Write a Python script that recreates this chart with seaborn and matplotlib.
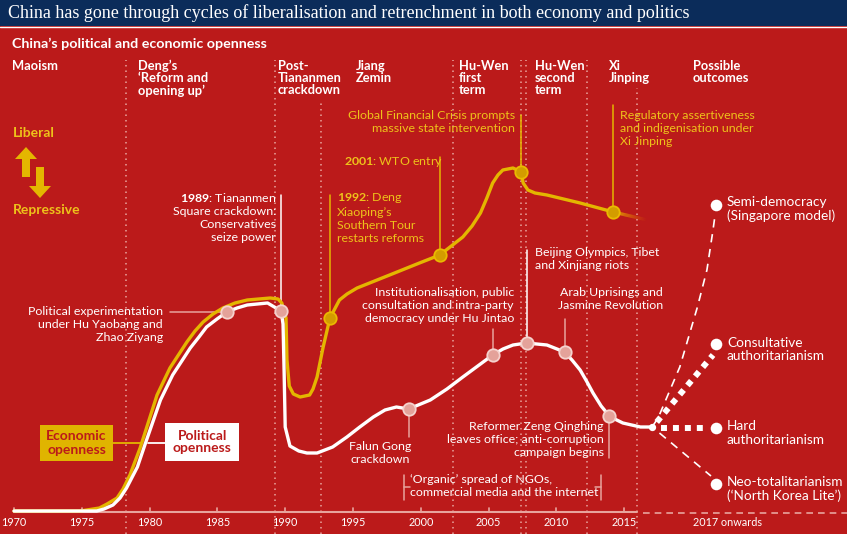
import numpy as np
import pandas as pd
import matplotlib
matplotlib.use("Agg")
import matplotlib.pyplot as plt
import seaborn as sns
from matplotlib.patches import Rectangle, FancyArrow
from matplotlib.collections import LineCollection

# ---------------- data ----------------
econ_year = [1970.0, 1974.9, 1976.3, 1976.86, 1977.6, 1978.04, 1978.55, 1979.3, 1980.55,
             1981.5, 1982.75, 1983.35, 1983.95, 1984.68, 1985.4, 1986.3, 1987.2, 1988.9,
             1989.47, 1989.75, 1990.06, 1990.13, 1990.3, 1990.6, 1991.1, 1991.8, 1992.05,
             1992.35, 1992.8, 1993.3, 1994.0, 1994.56, 1995.3, 1997.7, 1999.9, 2001.4,
             2003.1, 2003.78, 2004.4, 2004.87, 2005.3, 2005.69, 2006.05, 2006.8, 2007.4,
             2007.55, 2007.9, 2008.42, 2009.3, 2011.75, 2014.2]
econ_value = [1, 1, 4, 8, 14, 23, 37, 64, 117,
              144, 170, 181, 190, 198, 204, 209, 212, 214,
              213, 209, 194, 152, 126, 118, 115, 117, 123,
              135, 165, 194, 212, 218, 224, 237, 249, 257,
              275, 286, 299, 314, 329, 337, 342, 344, 340,
              329, 322, 319, 317, 309, 300]
econ_fade_year = [2014.2, 2016.7]
econ_fade_value = [300, 292]

pol_year = [1970.0, 1976.1, 1976.64, 1977.3, 1977.82, 1978.3, 1979.1, 1979.7, 1980.8,
            1981.7, 1983.0, 1983.64, 1984.2, 1984.97, 1985.7, 1986.45, 1987.2, 1988.7,
            1989.7, 1989.84, 1989.92, 1990.0, 1990.35, 1991.0, 1991.6, 1992.35, 1993.5,
            1994.55, 1995.5, 1996.5, 1997.36, 1998.2, 1999.1, 2000.7, 2001.93, 2003.1,
            2004.2, 2005.3, 2006.06, 2006.8, 2007.8, 2009.3, 2010.6, 2011.15, 2011.75,
            2012.26, 2012.7, 2013.3, 2013.9, 2014.3, 2014.9, 2016.2, 2017.05]
pol_value = [1, 1, 3, 7, 14, 24, 45, 69, 112,
             137, 164, 175, 185, 193, 200, 204, 207, 209,
             201, 188, 140, 85, 66, 61, 59, 59, 65,
             75, 85, 95, 102, 105, 103, 112, 123, 135,
             146, 157, 163, 167, 169, 167, 160, 152, 142,
             130, 119, 106, 96, 93, 89, 85, 85]

econ_event_year = [1993.3, 2001.4, 2007.4, 2014.2]
econ_event_value = [194, 257, 340, 300]
pol_event_year = [1985.7, 1989.7, 1999.1, 2005.3, 2007.8, 2010.6, 2013.9]
pol_event_value = [200, 201, 103, 157, 169, 160, 96]

outcome_names = ["Semi-democracy\n(Singapore model)", "Consultative\nauthoritarianism",
                 "Hard\nauthoritarianism", "Neo-totalitarianism\n(‘North Korea Lite’)"]
outcome_year = 2021.8
outcome_value = [307, 168, 84, 28]
semi_year = [2017.05, 2017.5, 2019.1, 2020.4, 2021.1, 2021.55, 2021.7]
semi_value = [85, 94, 145, 205, 242, 282, 297]
consult_year = [2017.4, 2021.55]
consult_value = [90, 157]
hard_year = [2017.7, 2021.2]
hard_value = [84, 84]
neo_year = [2017.6, 2021.4]
neo_value = [79, 36]

tick_years = [1970, 1975, 1980, 1985, 1990, 1995, 2000, 2005, 2010, 2015]
period_bounds = [1978.26, 1989.25, 1992.64, 2002.34, 2007.4, 2007.77, 2012.26, 2015.98]
period_tops = [452, 452, 412, 452, 452, 452, 452, 424]
era_names = ["Maoism", "Deng’s\n‘Reform and\nopening up’", "Post-\nTiananmen\ncrackdown",
             "Jiang\nZemin", "Hu-Wen\nfirst\nterm", "Hu-Wen\nsecond\nterm", "Xi\nJinping",
             "Possible\noutcomes"]

# ---------------- style ----------------
RED = "#bb1a1a"
NAVY = "#0b2c5a"
YEL = "#e4b600"
YTXT = "#eec21a"
PINK = "#e8a49d"
WHITE = "white"

sns.set_style("white")
plt.rcParams['font.family'] = ['Lato', 'DejaVu Sans']
plt.rcParams['mathtext.fontset'] = 'custom'
plt.rcParams['mathtext.rm'] = 'Lato'
plt.rcParams['mathtext.bf'] = 'Lato:bold'

fig = plt.figure(figsize=(8.47, 5.34), dpi=100, facecolor=RED)
ax = fig.add_axes([0, 0, 1, 1])
ax.set_facecolor(RED)
X0, PX = 1970, 13.56

# period separators
for x, top in zip(period_bounds, period_tops):
    ax.plot([x, x], [-22, top], color=PINK, lw=1.1, ls=(0, (1, 2.6)), zorder=1)

# axis
ax.plot([1970, 2015.98], [0, 0], color=PINK, lw=1.5, zorder=2)
ax.plot([2016.4, 2032], [-1, -1], color=PINK, lw=1.2, ls=(0, (4, 3)), zorder=2)
for t in tick_years:
    ax.plot([t, t], [0, 4], color=PINK, lw=1.2, zorder=2)
    ax.text(t, -11, str(t), ha='center', va='center', color=WHITE, fontsize=7.8)
ax.text(2022.65, -11, "2017 onwards", ha='center', va='center', color=WHITE, fontsize=7.8)

# lines
df_e = pd.DataFrame({'year': econ_year, 'openness': econ_value})
df_p = pd.DataFrame({'year': pol_year, 'openness': pol_value})
sns.lineplot(data=df_e, x='year', y='openness', ax=ax, color=YEL, linewidth=2.4,
             sort=False, estimator=None, zorder=4, solid_joinstyle='round')
sns.lineplot(data=df_p, x='year', y='openness', ax=ax, color=WHITE, linewidth=2.4,
             sort=False, estimator=None, zorder=5, solid_joinstyle='round')

# fading end of economic line
fx = np.linspace(econ_fade_year[0], econ_fade_year[1], 40)
fy = np.linspace(econ_fade_value[0], econ_fade_value[1], 40)
pts = np.array([fx, fy]).T.reshape(-1, 1, 2)
segs = np.concatenate([pts[:-1], pts[1:]], axis=1)
alphas = np.linspace(1, 0, len(segs))
cols = [(0.89 + 0.05 * (1 - a), 0.71 - 0.25 * (1 - a), 0.0, a) for a in alphas]
ax.add_collection(LineCollection(segs, colors=cols, linewidths=2.4, zorder=4))

# leader lines
leaders = [
    (PINK, [1981.5, 1985.7], [200, 200]),
    (WHITE, [1989.7, 1989.7], [201, 317]),
    (YEL, [1993.3, 1993.3], [194, 317]),
    (YEL, [2001.4, 2001.4], [257, 355]),
    (YEL, [2007.4, 2007.4], [340, 397]),
    (YEL, [2014.2, 2014.2], [300, 407]),
    (PINK, [2005.3, 2005.3], [157, 183]),
    (WHITE, [2007.8, 2007.8], [169, 262]),
    (PINK, [2010.6, 2010.6], [160, 193]),
    (PINK, [1999.1, 1999.1], [103, 75]),
    (PINK, [2013.9, 2013.9], [96, 54]),
    (PINK, [1998.76, 1998.76], [12, 37]),
    (PINK, [1998.76, 1999.2], [25, 25]),
    (PINK, [2013.29, 2013.29], [12, 37]),
    (PINK, [2012.85, 2013.29], [25, 25]),
]
for c, xs, ys in leaders:
    ax.plot(xs, ys, color=c, lw=1.1, zorder=3)

# event markers
sns.scatterplot(x=econ_event_year, y=econ_event_value, ax=ax, s=80, color="#d39c00",
                edgecolor="#eab900", linewidth=1.3, zorder=6)
sns.scatterplot(x=pol_event_year, y=pol_event_value, ax=ax, s=80, color="#e4a29a",
                edgecolor="#f5d2cd", linewidth=1.3, zorder=6)

# possible outcomes
ax.plot(semi_year, semi_value, color=WHITE, lw=1.2, ls=(0, (5, 4)), zorder=5)
ax.plot(neo_year, neo_value, color=WHITE, lw=1.2, ls=(0, (5, 4)), zorder=5)
ax.plot(consult_year, consult_value, color=WHITE, lw=4.3, ls=(0, (1, 1)), zorder=5,
        dash_capstyle='butt')
ax.plot(hard_year, hard_value, color=WHITE, lw=4.3, ls=(0, (1, 1)), zorder=5,
        dash_capstyle='butt')
ax.scatter([pol_year[-1]], [pol_value[-1]], s=18, color=WHITE, zorder=6)
ax.scatter([outcome_year] * 4, outcome_value, s=70, color=WHITE, zorder=6, linewidths=0)
for name, v, top in zip(outcome_names, outcome_value, [316, 175, 92, 36]):
    ax.text(2022.58, top, name, ha='left', va='top', color=WHITE, fontsize=9.8,
            linespacing=1.15)

# legend boxes
ax.add_patch(Rectangle((1971.92, 51), 5.38, 36, facecolor="#e0b400", edgecolor='none', zorder=6))
ax.text(1974.61, 69, "Economic\nopenness", ha='center', va='center', color=RED,
        fontsize=10, fontweight='bold', zorder=7, linespacing=1.1)
ax.add_patch(Rectangle((1981.14, 51), 5.45, 38, facecolor=WHITE, edgecolor='none', zorder=6))
ax.text(1983.87, 70, "Political\nopenness", ha='center', va='center', color=RED,
        fontsize=10, fontweight='bold', zorder=7, linespacing=1.1)
ax.plot([1977.3, 1979.45], [69, 69], color=YEL, lw=1.3, zorder=3)
ax.plot([1979.85, 1981.14], [69, 69], color=WHITE, lw=1.3, zorder=3)

# annotations
ann_white = [
    ('right', 1980.99, 206, "Political experimentation\nunder Hu Yaobang and\nZhao Ziyang"),
    ('right', 1989.32, 321, "$\\mathbf{1989}$: Tiananmen\nSquare crackdown:\nConservatives\nseize power"),
    ('right', 2006.87, 225, "Institutionalisation, public\nconsultation and intra-party\ndemocracy under Hu Jintao"),
    ('left', 2008.42, 265, "Beijing Olympics, Tibet\nand Xinjiang riots"),
    ('right', 2017.86, 225, "Arab Uprisings and\nJasmine Revolution"),
    ('center', 1997.0, 71, "Falun Gong\ncrackdown"),
    ('right', 2013.51, 91, "Reformer Zeng Qinghing\nleaves office; anti-corruption\ncampaign begins"),
    ('left', 1999.2, 38, "‘Organic’ spread of NGOs,\ncommercial media and the internet"),
]
ann_yellow = [
    ('right', 2006.95, 402, "Global Financial Crisis prompts\nmassive state intervention"),
    ('left', 1994.34, 357, "$\\mathbf{2001}$: WTO entry"),
    ('left', 1993.82, 321, "$\\mathbf{1992}$: Deng\nXiaoping’s\nSouthern Tour\nrestarts reforms"),
    ('left', 2014.69, 402, "Regulatory assertiveness\nand indigenisation under\nXi Jinping"),
]
for ha, x, y, s in ann_white:
    ax.text(x, y, s, ha=ha, va='top', color=WHITE, fontsize=8.9, linespacing=1.22,
            multialignment=ha, zorder=7)
for ha, x, y, s in ann_yellow:
    ax.text(x, y, s, ha=ha, va='top', color=YTXT, fontsize=8.9, linespacing=1.22,
            multialignment=ha, zorder=7)

ax.set_xlim(X0 - 14 / PX, X0 + 833 / PX)
ax.set_ylim(-22, 512)
ax.axis('off')

# ---------------- header overlay (pixel coords) ----------------
ov = fig.add_axes([0, 0, 1, 1], facecolor='none')
ov.set_xlim(0, 847)
ov.set_ylim(534, 0)
ov.axis('off')
ov.add_patch(Rectangle((0, 0), 847, 26, facecolor=NAVY, edgecolor='none'))
ov.plot([0, 847], [26.5, 26.5], color=WHITE, lw=1)
ov.text(8, 13.5, "China has gone through cycles of liberalisation and retrenchment in both economy and politics",
        ha='left', va='center', color=WHITE, fontsize=13, family=['Liberation Serif', 'DejaVu Serif'])
ov.text(12, 44, "China’s political and economic openness", ha='left', va='center',
        color=WHITE, fontsize=10.3, fontweight='bold')
for name, x in zip(era_names, [12, 138, 278, 356, 459, 535, 609, 693]):
    ov.text(x, 59.5, name, ha='left', va='top', color=WHITE, fontsize=9.3,
            fontweight='bold', linespacing=1.05)
ov.text(13, 133, "Liberal", ha='left', va='center', color=YTXT, fontsize=10, fontweight='bold')
ov.text(13, 210, "Repressive", ha='left', va='center', color=YTXT, fontsize=10, fontweight='bold')
ov.add_patch(FancyArrow(26, 177, 0, -30, width=8, head_width=22, head_length=12,
                        length_includes_head=True, color=YEL, lw=0))
ov.add_patch(FancyArrow(40, 167, 0, 31, width=8, head_width=22, head_length=12,
                        length_includes_head=True, color=YEL, lw=0))

fig.savefig("out.png", dpi=100, facecolor=RED)
